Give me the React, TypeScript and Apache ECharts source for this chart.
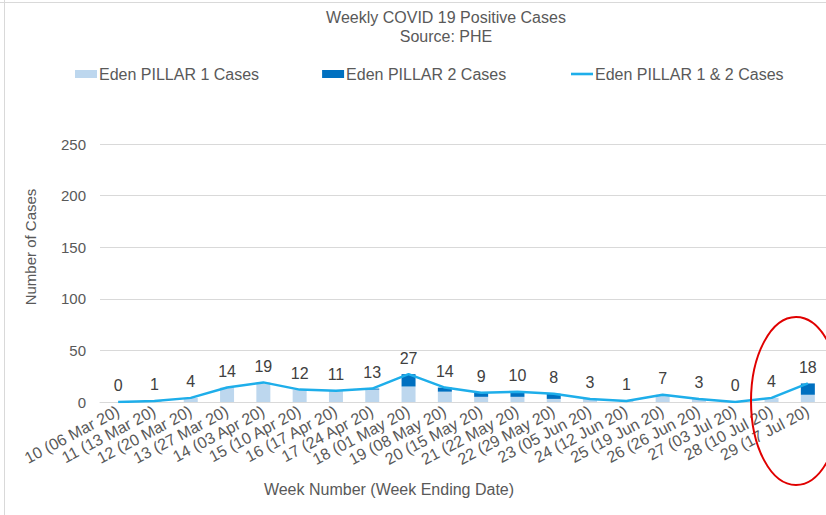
import React, { useEffect, useRef } from "react";
import * as echarts from "echarts";

const weeks = [
  "10 (06 Mar 20)", "11 (13 Mar 20)", "12 (20 Mar 20)", "13 (27 Mar 20)", "14 (03 Apr 20)",
  "15 (10 Apr 20)", "16 (17 Apr 20)", "17 (24 Apr 20)", "18 (01 May 20)", "19 (08 May 20)",
  "20 (15 May 20)", "21 (22 May 20)", "22 (29 May 20)", "23 (05 Jun 20)", "24 (12 Jun 20)",
  "25 (19 Jun 20)", "26 (26 Jun 20)", "27 (03 Jul 20)", "28 (10 Jul 20)", "29 (17 Jul 20)",
];
const pillar1 = [0, 1, 4, 14, 19, 12, 11, 12, 15, 10, 5, 5, 3, 3, 1, 7, 3, 0, 4, 7];
const pillar2 = [0, 0, 0, 0, 0, 0, 0, 1, 12, 4, 4, 5, 5, 0, 0, 0, 0, 0, 0, 11];
const total = [0, 1, 4, 14, 19, 12, 11, 13, 27, 14, 9, 10, 8, 3, 1, 7, 3, 0, 4, 18];
const yTicks = { min: 0, max: 250, interval: 50 };

const FONT = "'Liberation Sans', Arial, sans-serif";
const TXT = "#595959";
const LINE = "#1EAEEA";

export default function App() {
  const ref = useRef<HTMLDivElement>(null);
  useEffect(() => {
    const chart = echarts.init(ref.current!, null, { renderer: "svg" });
    const legendText = { fontFamily: FONT, fontSize: 16, color: TXT, padding: [0, 0, 0, -3] };
    chart.setOption({
      animation: false,
      backgroundColor: "#ffffff",
      textStyle: { fontFamily: FONT },
      title: {
        text: "Weekly COVID 19 Positive Cases\nSource: PHE",
        left: 441,
        textAlign: "center",
        top: 3,
        textStyle: { fontFamily: FONT, fontSize: 16, fontWeight: "normal", color: TXT, lineHeight: 19 },
      },
      legend: [
        {
          left: 75,
          top: 66,
          padding: 0,
          itemGap: 63,
          itemWidth: 22,
          itemHeight: 8,
          textStyle: legendText,
          data: [
            { name: "Eden PILLAR 1 Cases", icon: "rect" },
            { name: "Eden PILLAR 2 Cases", icon: "rect" },
          ],
        },
        {
          left: 571,
          top: 66,
          padding: 0,
          itemWidth: 22,
          itemHeight: 8,
          textStyle: legendText,
          data: [{ name: "Eden PILLAR 1 & 2 Cases", icon: "path://M0,2.7 L22,2.7 L22,5.3 L0,5.3 Z" }],
        },
      ],
      grid: { left: 100, right: -10, top: 144, bottom: 113, containLabel: false },
      xAxis: {
        type: "category",
        data: weeks,
        axisTick: { show: false },
        axisLine: { lineStyle: { color: "#d9d9d9", width: 1 } },
        axisLabel: { rotate: 28, interval: 0, fontSize: 16, color: TXT, fontFamily: FONT, margin: 8 },
      },
      yAxis: {
        type: "value",
        min: yTicks.min,
        max: yTicks.max,
        interval: yTicks.interval,
        axisLine: { show: false },
        axisTick: { show: false },
        splitLine: { lineStyle: { color: "#d9d9d9", width: 1 } },
        axisLabel: { fontSize: 15, color: TXT, fontFamily: FONT, margin: 14 },
      },
      series: [
        {
          name: "Eden PILLAR 1 Cases",
          type: "bar",
          stack: "cases",
          barWidth: 14,
          data: pillar1,
          itemStyle: { color: "#BDD7EE" },
        },
        {
          name: "Eden PILLAR 2 Cases",
          type: "bar",
          stack: "cases",
          barWidth: 14,
          data: pillar2,
          itemStyle: { color: "#0070C0" },
        },
        {
          name: "Eden PILLAR 1 & 2 Cases",
          type: "line",
          data: total,
          symbol: "circle",
          symbolSize: 0.1,
          showSymbol: true,
          lineStyle: { color: LINE, width: 2.5 },
          itemStyle: { color: LINE },
          label: {
            show: true,
            position: "top",
            distance: 8,
            fontSize: 16,
            color: "#404040",
            fontFamily: FONT,
          },
          z: 5,
        },
      ],
      graphic: [
        { type: "line", shape: { x1: 0, y1: 2.5, x2: 826, y2: 2.5 }, style: { stroke: "#d9d9d9", lineWidth: 1 } },
        { type: "line", shape: { x1: 4.5, y1: 0, x2: 4.5, y2: 515 }, style: { stroke: "#d9d9d9", lineWidth: 1 } },
        {
          type: "text",
          x: 30,
          y: 247,
          rotation: Math.PI / 2,
          style: {
            text: "Number of Cases",
            fontSize: 15,
            fill: TXT,
            fontFamily: FONT,
            align: "center",
            verticalAlign: "middle",
          },
        },
        {
          type: "text",
          x: 389,
          y: 489,
          style: {
            text: "Week Number (Week Ending Date)",
            fontSize: 16,
            fill: TXT,
            fontFamily: FONT,
            align: "center",
            verticalAlign: "middle",
          },
        },
        {
          type: "ellipse",
          shape: { cx: 796, cy: 401, rx: 45, ry: 84 },
          style: { fill: "none", stroke: "#E00000", lineWidth: 2 },
          z: 100,
        },
      ],
    });
    return () => chart.dispose();
  }, []);
  return <div ref={ref} style={{ width: 826, height: 515, position: "fixed", left: 0, top: 0 }} />;
}
